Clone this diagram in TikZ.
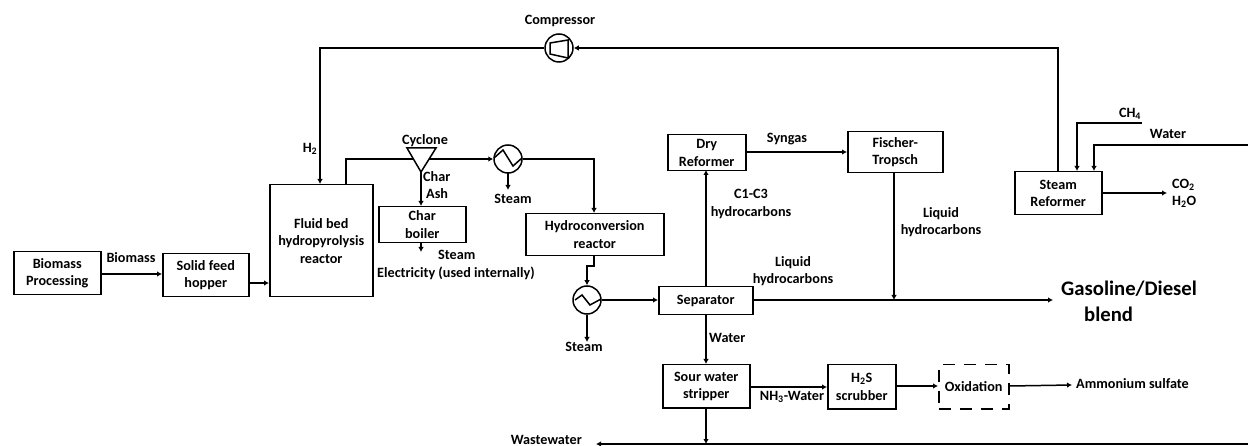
\documentclass[tikz,border=0pt]{standalone}
\usepackage{fontspec}
\setmainfont{Carlito}[BoldFont=* Bold]
\usetikzlibrary{arrows.meta}
\tikzset{
  every node/.style={font=\fontsize{14.2}{17.5}\selectfont\bfseries, align=center, inner sep=0pt, text=black},
  unit/.style 2 args={draw=black, line width=1.5pt, minimum width=#1, minimum height=#2, anchor=north west},
  flow/.style={draw=black, line width=1.5pt, -{Latex[length=5pt,width=5.5pt]}},
  plain/.style={draw=black, line width=1.5pt},
  round/.style={draw=black, line width=1.5pt, circle, minimum size=28pt, fill=white},
}
\begin{document}
\begin{tikzpicture}[x=1pt,y=-1pt]
\useasboundingbox (0,0) rectangle (1248,446);
\node[unit={87pt}{43pt}] (bio) at (13,251) {Biomass\\Processing};
\node[unit={86pt}{43pt}] (hop) at (162,253) {Solid feed\\hopper};
\node[unit={103pt}{112pt}] (fb) at (269,184) {Fluid bed\\hydropyrolysis\\reactor};
\node[unit={87pt}{36pt}] (cb) at (378,206) {Char\\boiler};
\node[unit={138pt}{42pt}] (hc) at (525,213) {Hydroconversion\\reactor};
\node[unit={94pt}{28pt}] (sep) at (658,286) {Separator};
\node[unit={87pt}{43pt}] (sour) at (662,364) {Sour water\\stripper};
\node[unit={68pt}{44pt}] (h2s) at (827,364) {H\textsubscript{2}S\\scrubber};
\node[unit={70pt}{44pt},dash pattern=on 12pt off 9pt] (ox) at (938,364) {Oxidation};
\node[unit={87pt}{43pt}] (sr) at (1014,171) {Steam\\Reformer};
\node[unit={78pt}{36pt}] (dry) at (667,134) {Dry\\Reformer};
\node[unit={95pt}{41pt}] (ft) at (847,131) {Fischer-\\Tropsch};
\node[round] (comp) at (559,48) {};
\node[round] (hx1) at (508,159) {};
\node[round] (hx2) at (587,300) {};
\draw[plain] (550,43) -- (568,40) -- (568,58) -- (550,54) -- cycle;
\draw[plain] (494,158) -- (503,150) -- (513,166) -- (522,158);
\draw[plain] (575,300) -- (582,295) -- (590,305) -- (601,299);
\draw[plain,fill=white] (407,148) -- (436,148) -- (421,172) -- cycle;
\coordinate (cyc) at (421,172);
\coordinate (cycl) at (414,159);
\coordinate (cycr) at (429,159);
% connectors
\draw[flow] (bio.east|-0,274) -- (hop.west|-0,274);
\draw[flow] (hop.east|-0,283) -- (fb.west|-0,283);
\draw[plain] (346,184) -- (346,159) -- (cycl);
\draw[flow] (cycr) -- (hx1.west);
\draw[flow] (hx1.east) -- (594,159) -- (594,213);
\draw[flow] (cyc) -- (421,206);
\draw[flow] (508,173) -- (508,190);
\draw[flow] (1058,171) -- (1058,48) -- (comp.east);
\draw[flow] (comp.west) -- (320,48) -- (320,184);
\draw[flow] (421,242) -- (421,252);
\draw[flow] (594,255) -- (594,266) -- (587,266) -- (hx2.north);
\draw[flow] (hx2.east) -- (sep.west|-0,300);
\draw[flow] (hx2.south) -- (587,342);
\draw[flow] (706,286) -- (706,170);
\draw[flow] (dry.east|-0,152) -- (ft.west|-0,152);
\draw[flow] (894,172) -- (894,300);
\draw[flow] (sep.east|-0,300) -- (1053,300);
\draw[flow] (706,314) -- (706,364);
\draw[flow] (706,407) -- (706,444);
\draw[flow] (sour.east|-0,387) -- (h2s.west|-0,387);
\draw[flow] (h2s.east|-0,386) -- (ox.west|-0,386);
\draw[flow] (ox.east|-0,386) -- (1072,385);
\draw[flow] (1248,444) -- (596,444);
\draw[flow] (1142,123) -- (1077,123) -- (1077,171);
\draw[flow] (1248,145) -- (1094,145) -- (1094,171);
\draw[flow] (sr.east|-0,193) -- (1167,193);
% labels
\node (t1) at (560,21) {Compressor};
\node (t2) at (310,149) {H\textsubscript{2}};
\node (t3) at (425,141) {Cyclone};
\node[anchor=west] (t4) at (423,177) {Char};
\node[anchor=west] (t5) at (426,194) {Ash};
\node (t6) at (513,199) {Steam};
\node[anchor=west] (t7) at (438,255) {Steam};
\node[anchor=west] (t8) at (377,273) {Electricity (used internally)};
\node (t9) at (131,258) {Biomass};
\node (t10) at (584,347) {Steam};
\node[anchor=west] (t11) at (709,338) {Water};
\node (t12) at (751,204) {C1-C3\\hydrocarbons};
\node (t13) at (787,139) {Syngas};
\node (t14) at (941,222) {Liquid\\hydrocarbons};
\node (t15) at (793,271) {Liquid\\hydrocarbons};
\node[anchor=west,font=\fontsize{20.7}{25}\selectfont\bfseries] (t16) at (1061,289) {Gasoline/Diesel};
\node[anchor=west,font=\fontsize{20.7}{25}\selectfont\bfseries] (t16b) at (1084,314) {blend};
\node (t17) at (792,397) {NH\textsubscript{3}-Water};
\node[anchor=west] (t18) at (1076,384) {Ammonium sulfate};
\node[anchor=east] (t19) at (582,440) {Wastewater};
\node (t20) at (1130,114) {CH\textsubscript{4}};
\node (t21) at (1168,134) {Water};
\node[anchor=west] (t22) at (1172,185) {CO\textsubscript{2}};
\node[anchor=west] (t23) at (1172,202) {H\textsubscript{2}O};
\end{tikzpicture}
\end{document}
